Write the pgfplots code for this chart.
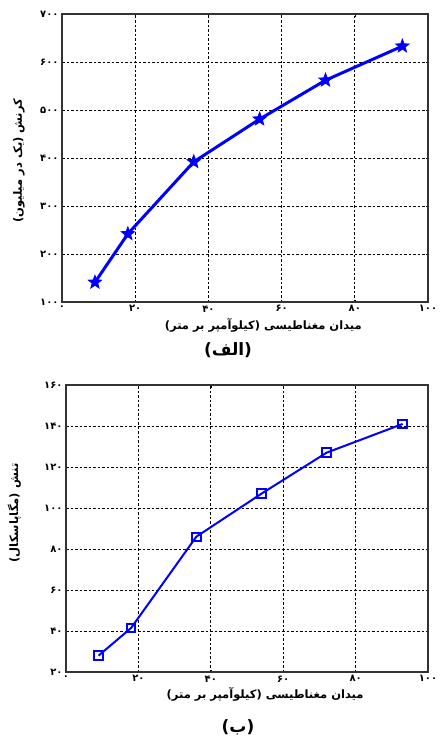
\documentclass[border=0pt]{standalone}
\usepackage{pgfplots}
\pgfplotsset{compat=1.18}
\usepackage{fontspec}
\newfontfamily\arabicfont[Script=Arabic]{DejaVu Sans}
\TeXXeTstate=1
\pgfdeclareplotmark{fstar}{%
\pgfpathmoveto{\pgfpointpolar{90}{\pgfplotmarksize}}%
\pgfpathlineto{\pgfpointpolar{126}{0.42*\pgfplotmarksize}}%
\pgfpathlineto{\pgfpointpolar{162}{\pgfplotmarksize}}%
\pgfpathlineto{\pgfpointpolar{198}{0.42*\pgfplotmarksize}}%
\pgfpathlineto{\pgfpointpolar{234}{\pgfplotmarksize}}%
\pgfpathlineto{\pgfpointpolar{270}{0.42*\pgfplotmarksize}}%
\pgfpathlineto{\pgfpointpolar{306}{\pgfplotmarksize}}%
\pgfpathlineto{\pgfpointpolar{342}{0.42*\pgfplotmarksize}}%
\pgfpathlineto{\pgfpointpolar{18}{\pgfplotmarksize}}%
\pgfpathlineto{\pgfpointpolar{54}{0.42*\pgfplotmarksize}}%
\pgfpathclose
\pgfusepathqfillstroke}
\pgfplotsset{
  mystyle/.style={
    scale only axis,
    xmin=0, xmax=100,
    xtick={0,20,40,60,80,100},
    xticklabels={۰,۲۰,۴۰,۶۰,۸۰,۱۰۰},
    grid=major,
    major grid style={black, line width=0.8pt, dash pattern=on 2.5pt off 2pt},
    axis line style={line width=1.3pt, black!80},
    tick align=inside,
    major tick length=2.5pt,
    tick style={black, line width=0.6pt},
    ticklabel style={font=\arabicfont\bfseries\fontsize{10}{11}\selectfont},
    label style={font=\arabicfont\bfseries\fontsize{11.5}{13}\selectfont},
  }
}
\begin{document}
\begin{tikzpicture}
\path[use as bounding box] (0,0) rectangle (439pt,-738pt);
\begin{axis}[mystyle,
  at={(62pt,-302pt)}, anchor=south west,
  width=366pt, height=288pt,
  ymin=100, ymax=700,
  ytick={100,200,300,400,500,600,700},
  yticklabels={۱۰۰,۲۰۰,۳۰۰,۴۰۰,۵۰۰,۶۰۰,۷۰۰},
  xlabel={\beginR میدان مغناطیسی (کیلوآمپر بر متر)\endR},
  ylabel={\beginR کرنش (یک در میلیون)\endR},
  xlabel style={at={(axis description cs:0.55,0)}, anchor=north, yshift=-13pt},
  ylabel style={at={(axis description cs:-0.118,0.49)}, anchor=center},
]
\addplot[blue, line width=3pt, mark=fstar, mark size=7pt, mark options={line width=0.8pt}]
  coordinates {(9,141) (18,242) (36,392) (54,481) (72,562) (93,633)};
\end{axis}
\node[font=\arabicfont\bfseries\fontsize{17}{19}\selectfont] at (228pt,-350pt) {\beginR (الف)\endR};
\begin{axis}[mystyle,
  at={(66pt,-672pt)}, anchor=south west,
  width=362pt, height=287pt,
  ymin=20, ymax=160,
  ytick={20,40,60,80,100,120,140,160},
  yticklabels={۲۰,۴۰,۶۰,۸۰,۱۰۰,۱۲۰,۱۴۰,۱۶۰},
  xlabel={\beginR میدان مغناطیسی (کیلوآمپر بر متر)\endR},
  ylabel={\beginR تنش (مگاپاسکال)\endR},
  xlabel style={at={(axis description cs:0.55,0)}, anchor=north, yshift=-12pt},
  ylabel style={at={(axis description cs:-0.143,0.554)}, anchor=center},
]
\addplot[blue, line width=2pt, mark=square, mark size=4.2pt, mark options={line width=2pt, fill=white}]
  coordinates {(9,28) (18,41.5) (36,86) (54,107) (72,127) (93,141)};
\end{axis}
\node[font=\arabicfont\bfseries\fontsize{17}{19}\selectfont] at (238pt,-727pt) {\beginR (ب)\endR};
\end{tikzpicture}
\end{document}
